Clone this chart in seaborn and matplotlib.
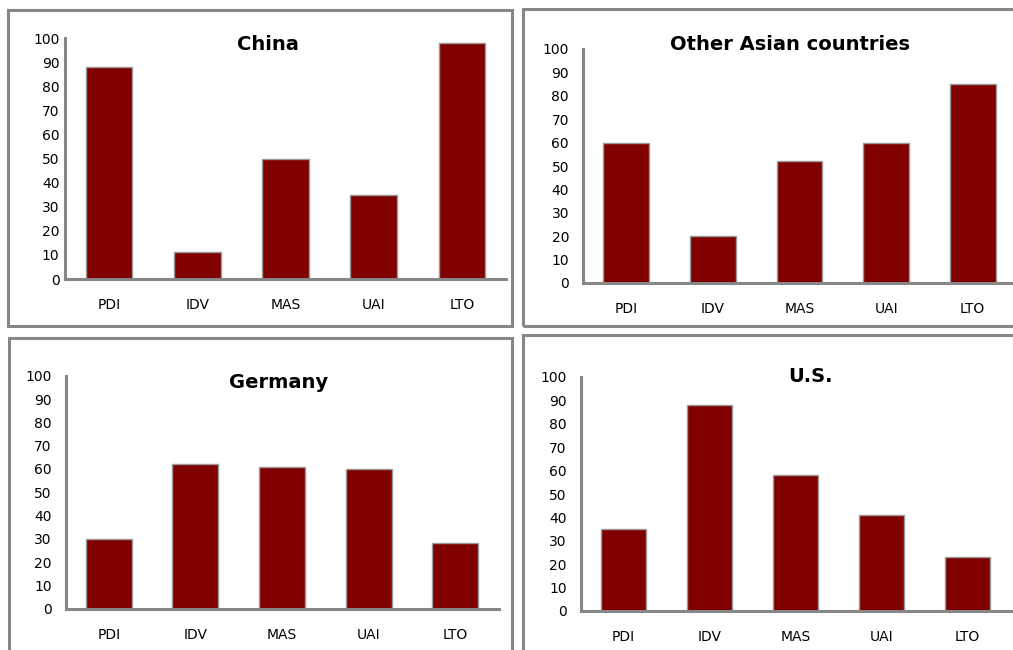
import matplotlib
matplotlib.use("Agg")
import matplotlib.pyplot as plt
from matplotlib.patches import Rectangle
import seaborn as sns

# Datos
dimensions = ["PDI", "IDV", "MAS", "UAI", "LTO"]
china = [88, 11, 50, 35, 98]
other_asian = [60, 20, 52, 60, 85]
germany = [30, 62, 61, 60, 28]
us = [35, 88, 58, 41, 23]

titles = ["China", "Other Asian countries", "Germany", "U.S."]
series = [china, other_asian, germany, us]

sns.set_style("white")
plt.rcParams["font.family"] = ["DejaVu Sans"]
plt.rcParams["text.color"] = "black"
plt.rcParams["xtick.color"] = "black"
plt.rcParams["ytick.color"] = "black"

W, H = 1013, 650
fig = plt.figure(figsize=(W / 100, H / 100), dpi=100)

BAR = "#800000"
GRAY = "#878787"

# cajas de cada panel (pixeles: x0, top, x1, bottom)
boxes = [(7.5, 10, 511.5, 326), (522.5, 9.5, 1030, 326),
         (8.5, 338, 512, 670), (522.5, 335.5, 1030, 670)]
# ejes (pixeles: left, top, right, bottom)
axes_px = [(65, 38, 506, 279), (583, 49, 1016, 283),
           (65.5, 376, 498.5, 608.5), (580.5, 377, 1010.5, 611)]
# posicion del titulo (pixeles)
title_px = [(268, 44), (790, 44), (279, 382), (810, 377)]
ypads = [4, 10, 10, 10]


def px_rect(x0, top, x1, bottom):
    return [x0 / W, 1 - bottom / H, (x1 - x0) / W, (bottom - top) / H]


for box in boxes:
    x0, top, x1, bottom = box
    fig.add_artist(Rectangle((x0 / W, 1 - bottom / H), (x1 - x0) / W, (bottom - top) / H,
                             transform=fig.transFigure, fill=False,
                             edgecolor=GRAY, linewidth=2.2, clip_on=False))

for i in range(4):
    ax = fig.add_axes(px_rect(*axes_px[i]))
    sns.barplot(x=dimensions, y=series[i], color=BAR, saturation=1, width=0.53,
                edgecolor="#9a9a9a", linewidth=1, ax=ax)
    ax.set_xlim(-0.5, 4.5)
    ax.set_ylim(0, 100)
    ax.set_yticks(range(0, 101, 10))
    ax.tick_params(axis="y", length=0, pad=ypads[i], labelsize=10, labelcolor="black")
    ax.tick_params(axis="x", length=0, pad=14, labelsize=10, labelcolor="black")
    for s in ["top", "right"]:
        ax.spines[s].set_visible(False)
    for s in ["left", "bottom"]:
        ax.spines[s].set_color(GRAY)
        ax.spines[s].set_linewidth(2.2)
    ax.set_xlabel("")
    ax.set_ylabel("")
    tx, ty = title_px[i]
    fig.text(tx / W, 1 - ty / H, titles[i], ha="center", va="center",
             fontsize=14, fontweight="bold", color="black")

fig.savefig("out.png", dpi=100)
